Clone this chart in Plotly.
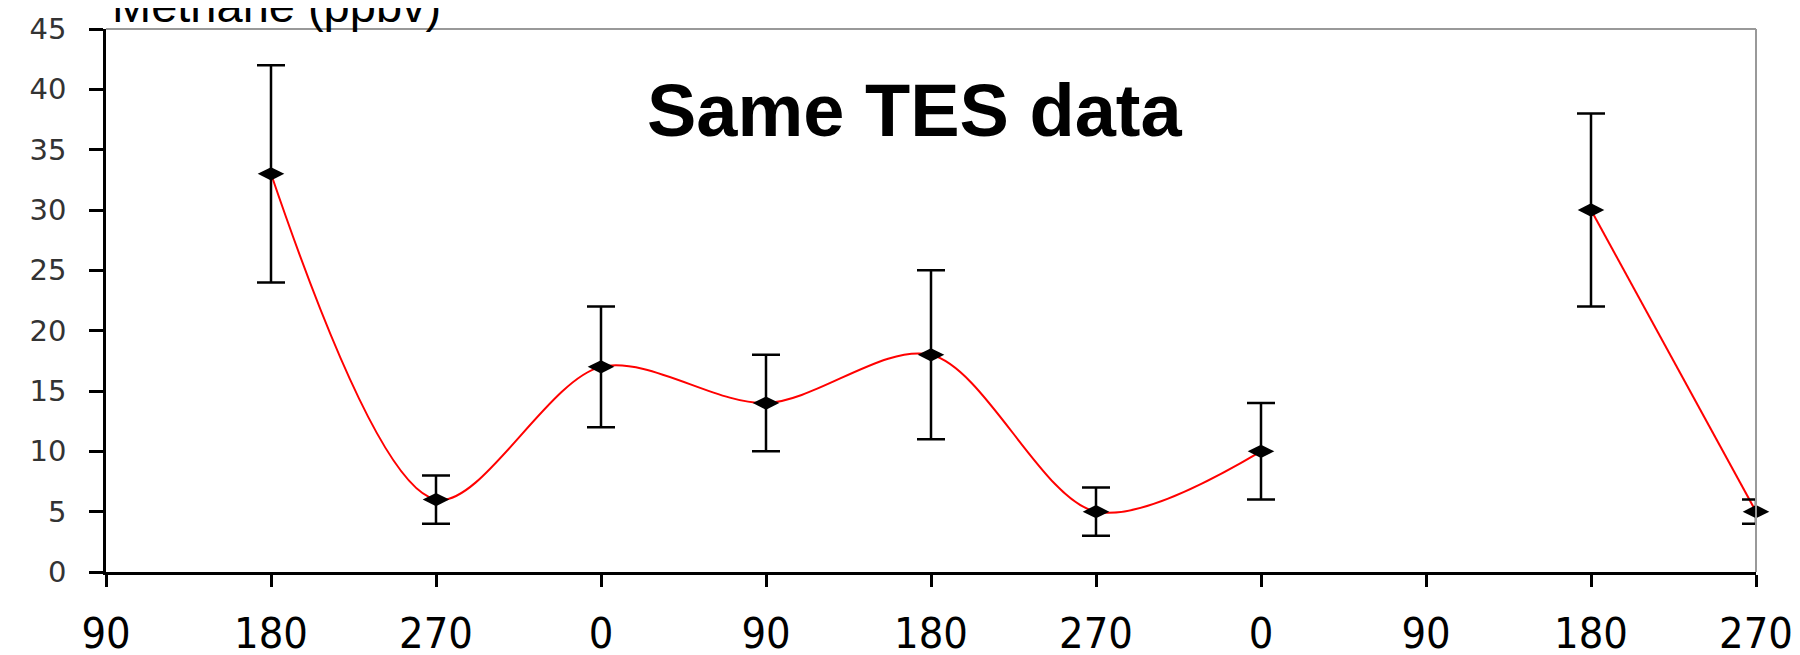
import plotly.graph_objects as go

# Data
tick_positions = list(range(11))
tick_labels = ["90", "180", "270", "0", "90", "180", "270", "0", "90", "180", "270"]

point_x = [1, 2, 3, 4, 5, 6, 7, 9, 10]
methane = [33, 6, 17, 14, 18, 5, 10, 30, 5]
err_plus = [9, 2, 5, 4, 7, 2, 4, 8, 1]
err_minus = [9, 2, 5, 4, 7, 2, 4, 8, 1]

# smooth line segments (gap between the two observation groups)
line_x = [1, 2, 3, 4, 5, 6, 7, None, 9, 10]
line_y = [33, 6, 17, 14, 18, 5, 10, None, 30, 5]

fig = go.Figure()

fig.add_trace(go.Scatter(
    x=line_x, y=line_y, mode="lines",
    line=dict(color="#ff0000", width=2, shape="spline", smoothing=0.9),
    connectgaps=False, hoverinfo="skip", cliponaxis=False,
))

fig.add_trace(go.Scatter(
    x=point_x, y=methane, mode="markers",
    marker=dict(symbol="diamond-wide", size=19, color="black"),
    error_y=dict(type="data", symmetric=False, array=err_plus, arrayminus=err_minus,
                 color="black", thickness=2.5, width=14),
    cliponaxis=False,
))

# page body has an 8px margin, so the figure is 8px smaller and margins are shifted
L, R, T, B = 98, 44, 21, 83

fig.update_layout(
    width=1792, height=647,
    margin=dict(l=L, r=R, t=T, b=B, autoexpand=False),
    paper_bgcolor="white", plot_bgcolor="white",
    showlegend=False,
    xaxis=dict(
        range=[0, 10], tickvals=tick_positions, ticktext=tick_labels,
        showgrid=False, zeroline=False, automargin=False,
        showline=True, linecolor="black", linewidth=2.5,
        ticks="outside", ticklen=12, tickwidth=2.5, tickcolor="black",
        tickfont=dict(family="Liberation Sans Narrow, DejaVu Sans Condensed, Arial Narrow, sans-serif",
                      size=43, color="black"),
        ticklabelstandoff=10,
    ),
    yaxis=dict(
        range=[0, 45], tickvals=[0, 5, 10, 15, 20, 25, 30, 35, 40, 45],
        showgrid=False, zeroline=False, automargin=False,
        showline=True, linecolor="black", linewidth=2.5,
        ticks="outside", ticklen=14, tickwidth=2.5, tickcolor="black",
        tickfont=dict(family="DejaVu Sans, Verdana, sans-serif", size=29, color="#333333"),
        ticklabelstandoff=17,
    ),
    shapes=[
        dict(type="line", xref="paper", yref="paper", x0=0, x1=1, y0=1, y1=1,
             line=dict(color="#999999", width=2)),
        dict(type="line", xref="paper", yref="paper", x0=1, x1=1, y0=0, y1=1,
             line=dict(color="#999999", width=2)),
    ],
    annotations=[
        dict(text="Methane (ppbv)", xref="paper", yref="paper", x=0.0024, y=1.043,
             xanchor="left", yanchor="middle", showarrow=False,
             font=dict(family="Liberation Sans, Arial, sans-serif", size=47, color="black")),
        dict(text="<b>Same TES data</b>", xref="paper", yref="paper", x=0.49, y=0.85,
             xanchor="center", yanchor="middle", showarrow=False,
             font=dict(family="Liberation Sans, Arial, sans-serif", size=74, color="black")),
    ],
)

fig.write_html("out.html")
